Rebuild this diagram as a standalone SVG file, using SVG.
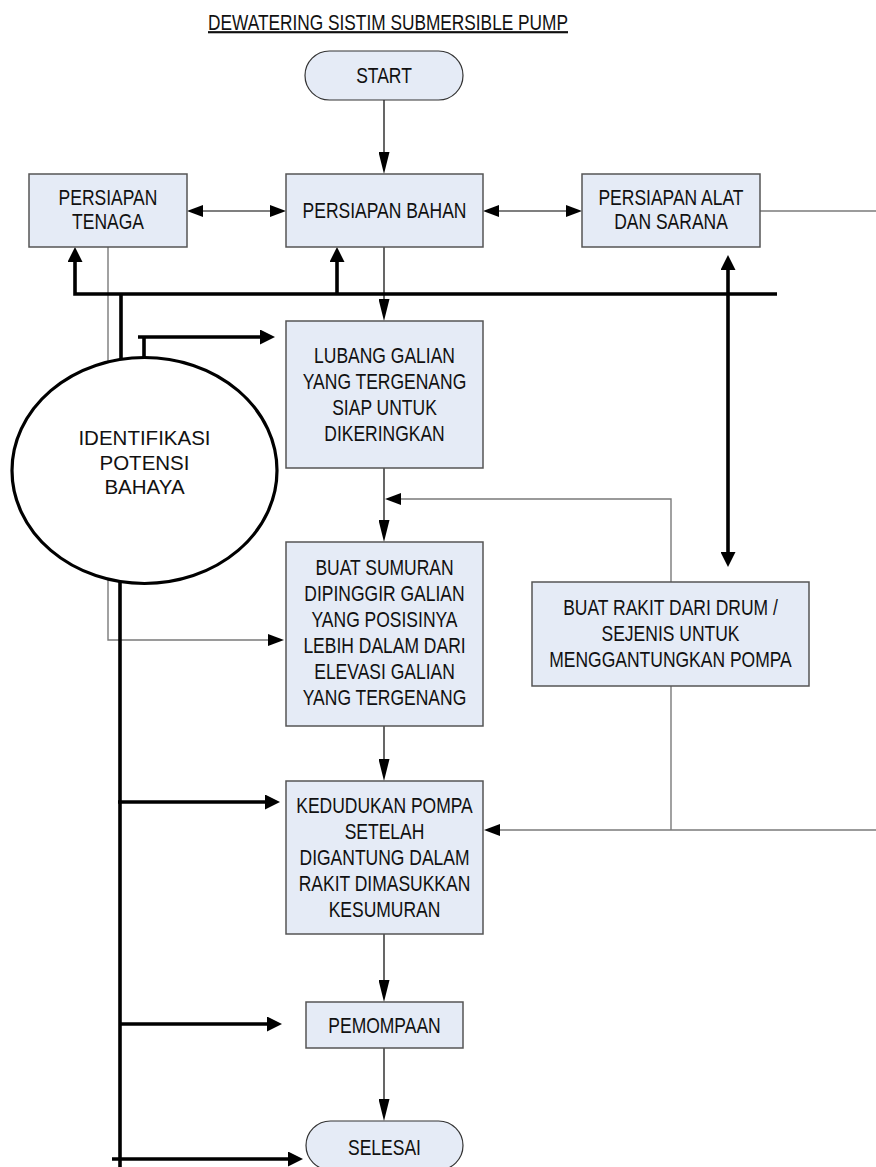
<svg xmlns="http://www.w3.org/2000/svg" width="876" height="1167" viewBox="0 0 876 1167">
<style>
.t{font-family:"Liberation Sans",Arial,sans-serif;font-size:17.5px;text-anchor:middle;fill:#111}
.e{font-family:"Liberation Sans",Arial,sans-serif;font-size:20.5px;text-anchor:middle;fill:#111}
.box{fill:#e5ebf6;stroke:#555;stroke-width:1.5}
.term{fill:#e5ebf6;stroke:#333;stroke-width:1.2}
.thin{fill:none;stroke:#000;stroke-width:1.2}
.gray{fill:none;stroke:#7a7a7a;stroke-width:1.4}
.thick{fill:none;stroke:#000;stroke-width:3.6}
</style>
<defs>
<marker id="ah" markerUnits="userSpaceOnUse" markerWidth="16" markerHeight="12" viewBox="0 0 16 12" refX="0" refY="6" orient="auto-start-reverse"><path d="M0,0 L16,6 L0,12 z" fill="#000"/></marker>
<marker id="av" markerUnits="userSpaceOnUse" markerWidth="22" markerHeight="11" viewBox="0 0 22 11" refX="0" refY="5.5" orient="auto-start-reverse"><path d="M0,0 L22,5.5 L0,11 z" fill="#000"/></marker>
<marker id="at" markerUnits="userSpaceOnUse" markerWidth="15" markerHeight="15" viewBox="0 0 15 15" refX="0" refY="7.5" orient="auto-start-reverse"><path d="M0,0 L15,7.5 L0,15 z" fill="#000"/></marker>
</defs>
<rect width="876" height="1167" fill="#fff"/>
<text class="t" font-size="16.7" text-decoration="underline" transform="translate(388,30) scale(1,1.3)" textLength="360" lengthAdjust="spacingAndGlyphs" style="font-size:16.7px">DEWATERING SISTIM SUBMERSIBLE PUMP</text>
<g id="connectors">
<path class="thin" d="M384,100 V152" marker-end="url(#av)"/>
<path class="thin" d="M203,211 H270" marker-start="url(#ah)" marker-end="url(#ah)"/>
<path class="thin" d="M499,211 H566" marker-start="url(#ah)" marker-end="url(#ah)"/>
<path class="thin" d="M384,247 V299" marker-end="url(#av)"/>
<path class="thin" d="M384,468 V520" marker-end="url(#av)"/>
<path class="thin" d="M384,726 V759" marker-end="url(#av)"/>
<path class="thin" d="M384,934 V980" marker-end="url(#av)"/>
<path class="thin" d="M384,1048 V1099" marker-end="url(#av)"/>
<path class="gray" d="M760,211 H876"/>
<path class="gray" d="M108,247 V640 H268" marker-end="url(#ah)"/>
<path class="gray" d="M671,582 V499 H401" marker-end="url(#ah)"/>
<path class="gray" d="M671,686 V830"/>
<path class="gray" d="M876,830 H500" marker-end="url(#ah)"/>
<path class="thick" d="M777,294 H75 V262" marker-end="url(#at)"/>
<path class="thick" d="M337,294 V262" marker-end="url(#at)"/>
<path class="thick" d="M728,270 V552" marker-start="url(#at)" marker-end="url(#at)"/>
<path class="thick" d="M121,294 V360"/>
<path class="thick" d="M144,360 V337"/>
<path class="thick" d="M138,337 H260" marker-end="url(#at)"/>
<path class="thick" d="M120,582 V1167"/>
<path class="thick" d="M118,802 H265" marker-end="url(#at)"/>
<path class="thick" d="M120,1024 H267" marker-end="url(#at)"/>
<path class="thick" d="M112,1159 H288" marker-end="url(#at)"/>
</g>
<g id="start">
<rect class="term" x="305" y="51" width="158" height="49" rx="24.5"/>
<text class="t" transform="translate(384,82.5) scale(1,1.28)">START</text>
</g>
<g id="tenaga">
<rect class="box" x="29" y="174" width="158" height="73"/>
<text class="t" transform="translate(108,204.5) scale(1,1.28)"><tspan x="0" y="0">PERSIAPAN</tspan><tspan x="0" y="19.5">TENAGA</tspan></text>
</g>
<g id="bahan">
<rect class="box" x="286" y="174" width="197" height="73"/>
<text class="t" transform="translate(384.5,218) scale(1,1.28)">PERSIAPAN BAHAN</text>
</g>
<g id="alat">
<rect class="box" x="582" y="174" width="178" height="73"/>
<text class="t" transform="translate(671,204.5) scale(1,1.28)"><tspan x="0" y="0">PERSIAPAN ALAT</tspan><tspan x="0" y="19.5">DAN SARANA</tspan></text>
</g>
<g id="identifikasi">
<ellipse cx="144.5" cy="470.5" rx="132.5" ry="113" fill="#fff" stroke="#000" stroke-width="3.2"/>
<text class="e"><tspan x="144.5" y="445">IDENTIFIKASI</tspan><tspan x="144.5" y="470">POTENSI</tspan><tspan x="144.5" y="494">BAHAYA</tspan></text>
</g>
<g id="lubang">
<rect class="box" x="286" y="321" width="197" height="147"/>
<text class="t" transform="translate(384.5,363) scale(1,1.28)"><tspan x="0" y="0">LUBANG GALIAN</tspan><tspan x="0" y="20.3">YANG TERGENANG</tspan><tspan x="0" y="40.6">SIAP UNTUK</tspan><tspan x="0" y="60.9">DIKERINGKAN</tspan></text>
</g>
<g id="sumuran">
<rect class="box" x="286" y="542" width="197" height="184"/>
<text class="t" transform="translate(384.5,575) scale(1,1.28)"><tspan x="0" y="0">BUAT SUMURAN</tspan><tspan x="0" y="20.3">DIPINGGIR GALIAN</tspan><tspan x="0" y="40.6">YANG POSISINYA</tspan><tspan x="0" y="60.9">LEBIH DALAM DARI</tspan><tspan x="0" y="81.2">ELEVASI GALIAN</tspan><tspan x="0" y="101.5">YANG TERGENANG</tspan></text>
</g>
<g id="rakit">
<rect class="box" x="532" y="582" width="277" height="104"/>
<text class="t" transform="translate(670.5,615) scale(1,1.28)"><tspan x="0" y="0">BUAT RAKIT DARI DRUM /</tspan><tspan x="0" y="20.3">SEJENIS UNTUK</tspan><tspan x="0" y="40.6">MENGGANTUNGKAN POMPA</tspan></text>
</g>
<g id="kedudukan">
<rect class="box" x="286" y="781" width="197" height="153"/>
<text class="t" transform="translate(384.5,813) scale(1,1.28)"><tspan x="0" y="0">KEDUDUKAN POMPA</tspan><tspan x="0" y="20.3">SETELAH</tspan><tspan x="0" y="40.6">DIGANTUNG DALAM</tspan><tspan x="0" y="60.9">RAKIT DIMASUKKAN</tspan><tspan x="0" y="81.2">KESUMURAN</tspan></text>
</g>
<g id="pemompaan">
<rect class="box" x="306" y="1002" width="157" height="46"/>
<text class="t" transform="translate(384.5,1033) scale(1,1.28)">PEMOMPAAN</text>
</g>
<g id="selesai">
<rect class="term" x="306" y="1121" width="157" height="49" rx="24.5"/>
<text class="t" transform="translate(384.5,1155) scale(1,1.28)">SELESAI</text>
</g>
</svg>
